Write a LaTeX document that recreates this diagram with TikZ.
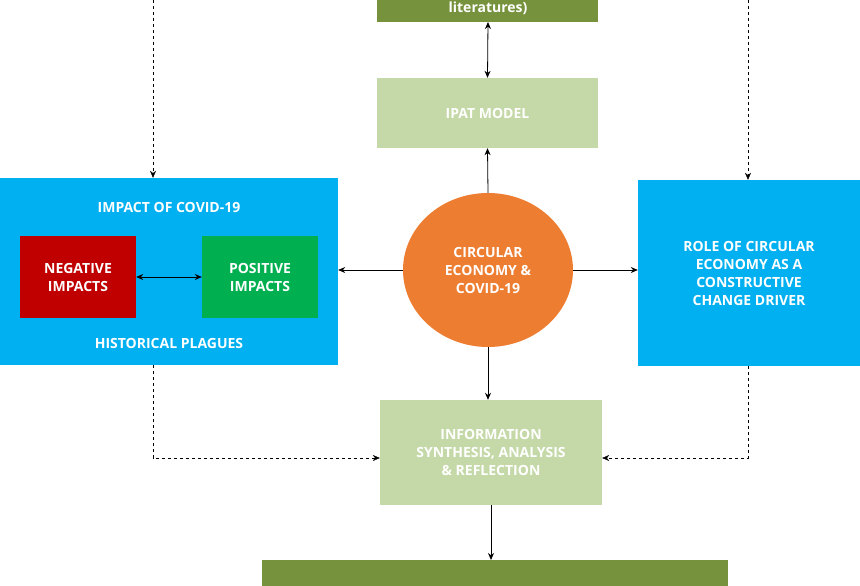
\documentclass[tikz,border=0pt]{standalone}
\usepackage{fontspec}
\setmainfont{Open Sans}
\usetikzlibrary{arrows.meta,shapes.geometric}
\definecolor{boxblue}{HTML}{00B0F0}
\definecolor{boxred}{HTML}{C00000}
\definecolor{boxgreen}{HTML}{00B050}
\definecolor{boxorange}{HTML}{ED7D31}
\definecolor{lightolive}{HTML}{C5D9A8}
\definecolor{darkolive}{HTML}{76923C}
\tikzset{
  lbl/.style={text=white, font=\bfseries\fontsize{14}{18}\selectfont, align=center},
  blk/.style={lbl, inner sep=0pt},
  arr/.style={-{Stealth[length=7pt,width=6pt]}, thick},
  darr/.style={{Stealth[length=7pt,width=6pt]}-{Stealth[length=7pt,width=6pt]}, thick},
  dlink/.style={-{Stealth[length=7pt,width=6pt]}, thin, dashed}
}
\begin{document}
\begin{tikzpicture}[x=1pt,y=-1pt]
\useasboundingbox (0,0) rectangle (860,586);
% boxes
\fill[darkolive] (377,-40) rectangle (598,22);
\node[lbl] (lit) at (488,8) {literatures)};
\coordinate (litb) at (488,22);
\fill[lightolive] (377,78) rectangle (598,148);
\node[blk, minimum width=221pt, minimum height=70pt] (ipat) at (487.5,113) {IPAT MODEL};
\fill[boxblue] (0,178) rectangle (338,365);
\node[blk, minimum width=338pt, minimum height=187pt] (impact) at (169,271.5) {};
\node[lbl] (imptitle) at (169,207) {IMPACT OF COVID-19};
\node[lbl] (plagues) at (169,343) {HISTORICAL PLAGUES};
\node[blk, fill=boxred, minimum width=116pt, minimum height=82pt] (neg) at (78,277) {NEGATIVE\\IMPACTS};
\node[blk, fill=boxgreen, minimum width=116pt, minimum height=82pt] (pos) at (260,277) {POSITIVE\\IMPACTS};
\node[blk, fill=boxblue, minimum width=222pt, minimum height=186pt] (role) at (749,273) {ROLE OF CIRCULAR\\ECONOMY AS A\\CONSTRUCTIVE\\CHANGE DRIVER};
\node[blk, fill=boxorange, ellipse, minimum width=170pt, minimum height=154pt] (ce) at (488,270) {CIRCULAR\\ECONOMY \&\\COVID-19};
\node[blk, fill=lightolive, minimum width=222pt, minimum height=105pt] (info) at (491,452.5) {INFORMATION\\SYNTHESIS, ANALYSIS\\\& REFLECTION};
\fill[darkolive] (262,560) rectangle (728,620);
\coordinate (bott) at (491,560);
% connectors
\draw[darr] (litb) -- (ipat.north);
\draw[arr] (ce.north) -- (ipat.south);
\draw[darr] (neg.east) -- (pos.west);
\draw[arr] (ce.west) -- (impact.east |- ce.west);
\draw[arr] (ce.east) -- (role.west |- ce.east);
\draw[arr] (ce.south) -- (info.north -| ce.south);
\draw[arr] (info.south) -- (bott);
% dashed links
\coordinate (tl) at (153,0);
\coordinate (tr) at (748,0);
\draw[dlink] (tl) -- (impact.north -| tl);
\draw[dlink] (tr) -- (role.north -| tr);
\draw[dlink] (impact.south -| tl) -- (153,458) -- (info.west |- 0,458);
\draw[dlink] (role.south -| tr) -- (748,458) -- (info.east |- 0,458);
\end{tikzpicture}
\end{document}
